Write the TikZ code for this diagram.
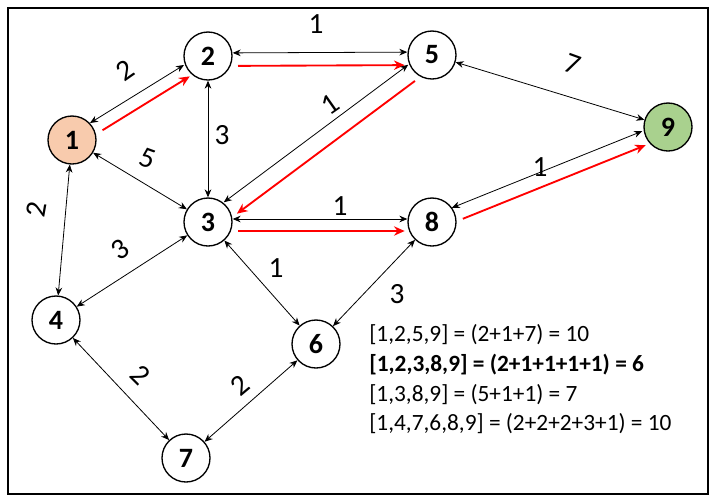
\documentclass[tikz,border=0pt]{standalone}
\usepackage{fontspec}
\setmainfont{Carlito}
\usetikzlibrary{arrows.meta}
\begin{document}
\begin{tikzpicture}[x=0.75pt,y=-0.75pt,
  vert/.style={circle,draw,line width=1pt,minimum size=36pt,inner sep=0pt,font=\fontsize{21}{21}\selectfont\bfseries},
  edge/.style={{Stealth[length=6pt,width=5pt]}-{Stealth[length=6pt,width=5pt]},line width=0.6pt},
  redarr/.style={-{Stealth[length=8pt,width=7pt]},red,line width=1.4pt,shorten <=4pt,shorten >=2pt},
  wt/.style={font=\fontsize{22}{22}\selectfont}]
\useasboundingbox (0,0) rectangle (717,501);
\draw[line width=0.8pt] (8,8) rectangle (708,494);
\node[vert,fill={rgb,255:red,248;green,203;blue,173}] (n1) at (72,140) {1};
\node[vert] (n2) at (208,56) {2};
\node[vert] (n5) at (432,55) {5};
\node[vert,fill={rgb,255:red,169;green,209;blue,142}] (n9) at (668,127) {9};
\node[vert] (n3) at (208,222) {3};
\node[vert] (n8) at (432,222) {8};
\node[vert] (n4) at (56,320) {4};
\node[vert] (n6) at (316,344) {6};
\node[vert] (n7) at (186,458) {7};
% paired edges
\draw[edge,transform canvas={shift={(-3,-4)}}] (n1) -- (n2);
\draw[redarr,transform canvas={shift={(5,6)}}] (n1) -- (n2);
\draw[edge,transform canvas={shift={(0,-3)}}] (n2) -- (n5);
\draw[redarr,transform canvas={shift={(0,10)}}] (n2) -- (n5);
\draw[edge,transform canvas={shift={(-4,-5)}}] (n5) -- (n3);
\draw[redarr,transform canvas={shift={(7,8)}}] (n5) -- (n3);
\draw[edge,transform canvas={shift={(0,-3)}}] (n3) -- (n8);
\draw[redarr,transform canvas={shift={(0,9)}}] (n3) -- (n8);
\draw[edge,transform canvas={shift={(-3,-5)}}] (n8) -- (n9);
\draw[redarr,transform canvas={shift={(3,8)}}] (n8) -- (n9);
% single edges
\draw[edge] (n5) -- (n9);
\draw[edge] (n2) -- (n3);
\draw[edge] (n1) -- (n3);
\draw[edge] (n1) -- (n4);
\draw[edge] (n4) -- (n3);
\draw[edge] (n3) -- (n6);
\draw[edge] (n6) -- (n8);
\draw[edge] (n4) -- (n7);
\draw[edge] (n7) -- (n6);
% weights
\node[wt] (w25) at (316,24) {1};
\node[wt,rotate=-20] (w59) at (573,64) {7};
\node[wt,rotate=35] (w12) at (125,70) {2};
\node[wt] (w23) at (222,135) {3};
\node[wt,rotate=-20] (w13) at (148,158) {5};
\node[wt,rotate=35] (w53) at (330,104) {1};
\node[wt] (w38) at (340,206) {1};
\node[wt] (w89) at (540,167) {1};
\node[wt,rotate=80] (w14) at (36,210) {2};
\node[wt,rotate=35] (w43) at (120,250) {3};
\node[wt] (w36) at (276,268) {1};
\node[wt] (w68) at (397,294) {3};
\node[wt,rotate=-45] (w47) at (140,375) {2};
\node[wt,rotate=40] (w76) at (240,385) {2};
% text
\begin{scope}[every node/.style={anchor=west,font=\fontsize{17.5}{17.5}\selectfont,inner sep=0pt}]
\node (t1) at (369,335) {[1,2,5,9] = (2+1+7) = 10};
\node (t2) at (369,365) {\bfseries [1,2,3,8,9] = (2+1+1+1+1) = 6};
\node (t3) at (369,395) {[1,3,8,9] = (5+1+1) = 7};
\node (t4) at (369,424) {[1,4,7,6,8,9] = (2+2+2+3+1) = 10};
\end{scope}
\end{tikzpicture}
\end{document}
